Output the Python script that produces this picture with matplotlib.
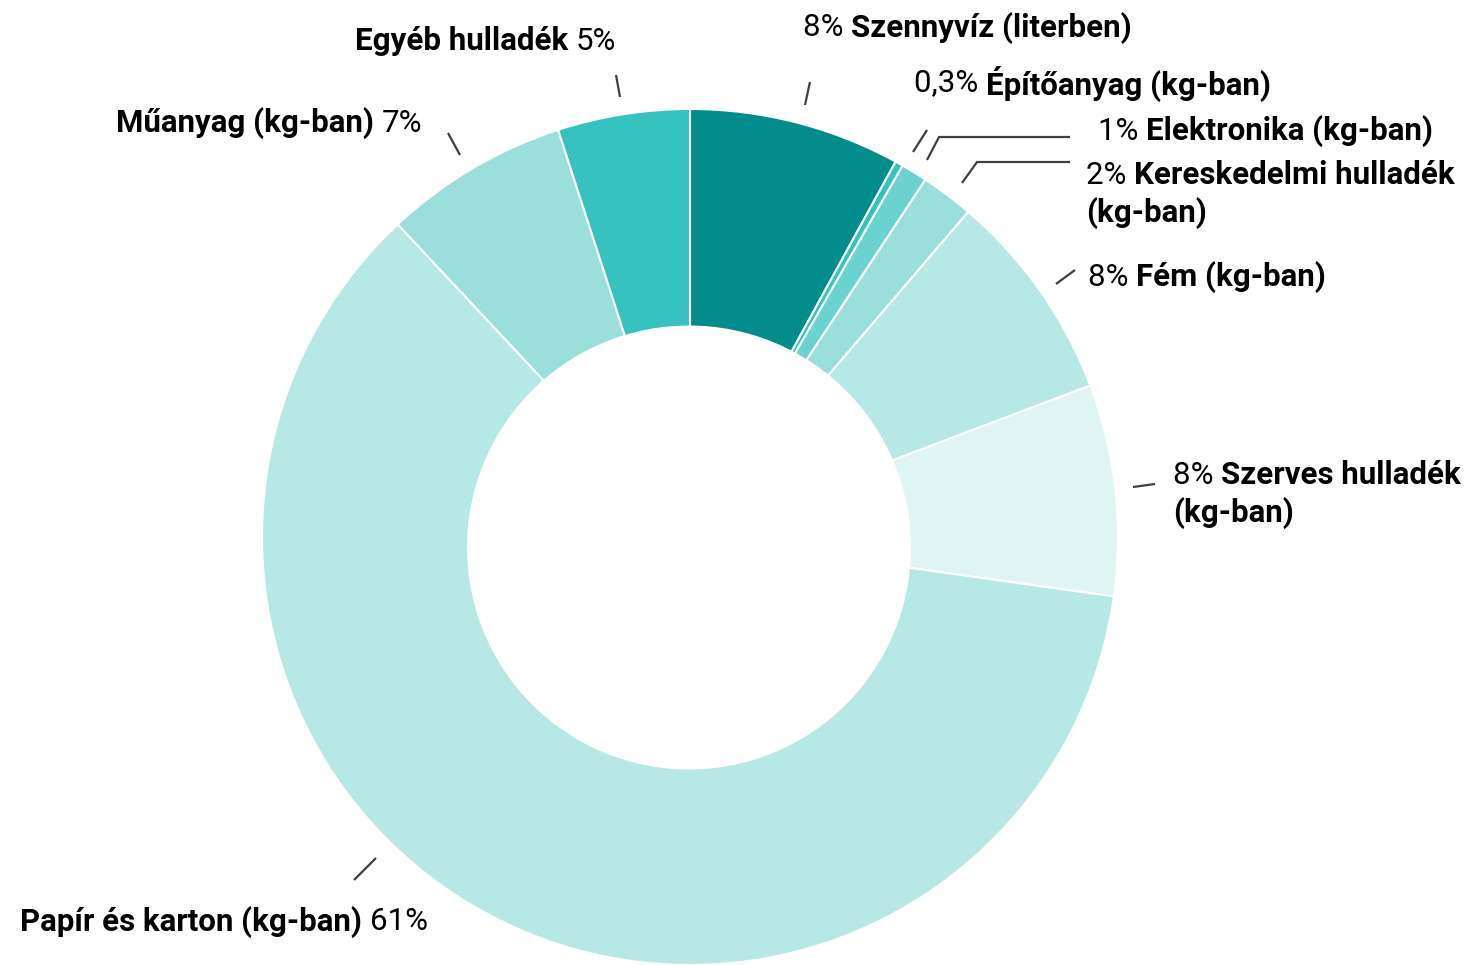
import numpy as np
import matplotlib
matplotlib.use('Agg')
import matplotlib.pyplot as plt
from matplotlib.patches import Circle

# Data
categories = ['Szennyvíz (literben)', 'Építőanyag (kg-ban)', 'Elektronika (kg-ban)',
              'Kereskedelmi hulladék (kg-ban)', 'Fém (kg-ban)', 'Szerves hulladék (kg-ban)',
              'Papír és karton (kg-ban)', 'Műanyag (kg-ban)', 'Egyéb hulladék']
shares = [8, 0.3, 1, 2, 8, 8, 61, 7, 5]
pct_labels = ['8%', '0,3%', '1%', '2%', '8%', '8%', '61%', '7%', '5%']
colors = ['#038C8C', '#36C3C0', '#6AD3D0', '#9BDFDD', '#B6E9E6', '#DFF5F4',
          '#B6E9E6', '#9BDFDD', '#36C3C0']

W, H = 1476, 965
plt.rcParams['font.family'] = ['Roboto', 'DejaVu Sans']
FS = 22.5

fig = plt.figure(figsize=(W / 100, H / 100), dpi=100)
ax = fig.add_axes([0, 0, 1, 1])

# outer ring centre / radius and the (slightly lower) hole
cx, cy, R = 690, H - 537, 428
hx, hy, r = 689, H - 547.5, 222
ax.pie(shares, colors=colors, startangle=90, counterclock=False,
       center=(cx, cy), radius=R, frame=True,
       wedgeprops=dict(edgecolor='white', linewidth=1.5))
ax.add_patch(Circle((hx, hy), r, facecolor='white', edgecolor='none', zorder=5))
ax.set_xlim(0, W)
ax.set_ylim(0, H)
ax.set_aspect('equal')
ax.axis('off')

fig.canvas.draw()
renderer = fig.canvas.get_renderer()


def P(x, y):
    return x, H - y


def mixed(x, y, parts):
    # parts: list of (text, bold); x,y pixel coords of left edge / vertical centre
    xx = x
    for txt, bold in parts:
        t = ax.text(*P(xx, y - 3), txt, fontsize=FS, fontweight='bold' if bold else 'normal',
                    ha='left', va='center_baseline', color='black', zorder=10)
        bb = t.get_window_extent(renderer)
        xx += bb.width


def leader(pts):
    xs = [p[0] for p in pts]
    ys = [H - p[1] for p in pts]
    ax.plot(xs, ys, color='#404040', lw=1.6, solid_capstyle='butt', zorder=10)


leader([(805, 105), (810, 82)])
mixed(803, 28, [(pct_labels[0] + ' ', False), (categories[0], True)])

leader([(913, 152), (927, 130)])
mixed(914, 83, [(pct_labels[1] + ' ', False), (categories[1], True)])

leader([(927, 160), (939, 137), (1070, 137)])
mixed(1098, 131, [(pct_labels[2] + ' ', False), (categories[2], True)])

leader([(962, 183), (977, 162), (1070, 162)])
mixed(1086, 175, [(pct_labels[3] + ' ', False), ('Kereskedelmi hulladék', True)])
mixed(1086, 213, [('(kg-ban)', True)])

leader([(1056, 284), (1075, 270)])
mixed(1088, 277, [(pct_labels[4] + ' ', False), (categories[4], True)])

leader([(1133, 487), (1155, 484)])
mixed(1173, 475, [(pct_labels[5] + ' ', False), ('Szerves hulladék', True)])
mixed(1173, 513, [('(kg-ban)', True)])

leader([(354, 880), (376, 858)])
mixed(20, 922, [(categories[6] + ' ', True), (pct_labels[6], False)])

leader([(460, 155), (448, 133)])
mixed(116, 123, [(categories[7] + ' ', True), (pct_labels[7], False)])

leader([(620, 97), (616, 75)])
mixed(355, 41, [(categories[8] + ' ', True), (pct_labels[8], False)])

fig.savefig('out.png', dpi=100)
